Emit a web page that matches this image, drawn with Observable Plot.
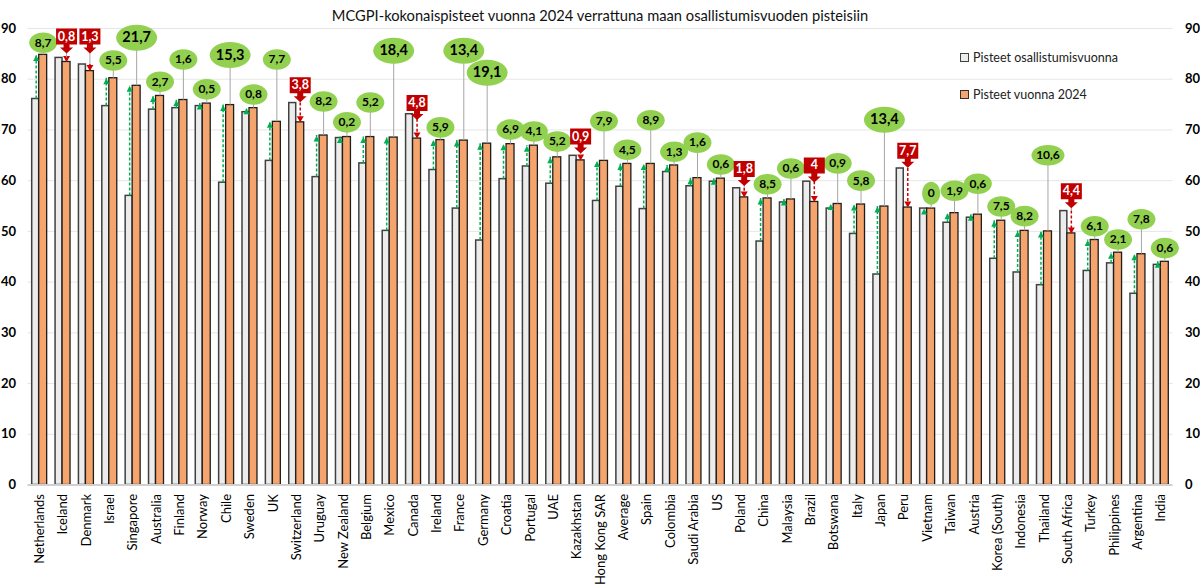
<!DOCTYPE html>
<html>
<head>
<meta charset="utf-8">
<script src="https://cdn.jsdelivr.net/npm/d3@7"></script>
<script src="https://cdn.jsdelivr.net/npm/@observablehq/plot@0.6"></script>
<style>
  html, body { margin: 0; padding: 0; background: #fff; }
  #wrap { position: relative; width: 1200px; height: 588px; font-family: Lato, "Open Sans", sans-serif; }
  #title { position: absolute; left: 0; top: 6px; width: 1200px; text-align: center; font-size: 14.7px; color: #111; }
  .leg { position: absolute; left: 960px; font-size: 12.5px; color: #222; display: flex; align-items: center; }
  .sw { width: 7px; height: 7px; margin-right: 4px; }
</style>
</head>
<body>
<div id="wrap">
  <div id="chart"></div>
  <div id="title">MCGPI-kokonaispisteet vuonna 2024 verrattuna maan osallistumisvuoden pisteisiin</div>
  <div class="leg" style="top:50px"><div class="sw" style="background:#ececec;border:1px solid #404040"></div>Pisteet osallistumisvuonna</div>
  <div class="leg" style="top:87px"><div class="sw" style="background:#f4a46c;border:1px solid #303030"></div>Pisteet vuonna 2024</div>
</div>
<script>
const categories = ["Netherlands","Iceland","Denmark","Israel","Singapore","Australia","Finland","Norway","Chile","Sweden","UK","Switzerland","Uruguay","New Zealand","Belgium","Mexico","Canada","Ireland","France","Germany","Croatia","Portugal","UAE","Kazakhstan","Hong Kong SAR","Average","Spain","Colombia","Saudi Arabia","US","Poland","China","Malaysia","Brazil","Botswana","Italy","Japan","Peru","Vietnam","Taiwan","Austria","Korea (South)","Indonesia","Thailand","South Africa","Turkey","Philippines","Argentina","India"];

const score2024 = [84.8,83.4,81.6,80.2,78.7,76.7,75.9,75.2,74.9,74.3,71.6,71.5,68.9,68.6,68.6,68.5,68.3,68.0,67.9,67.3,67.2,66.9,64.6,64.0,63.9,63.3,63.3,63.0,60.5,60.4,56.7,56.5,56.3,55.8,55.4,55.3,54.9,54.7,54.5,53.6,53.3,52.1,50.1,50.0,49.6,48.3,45.8,45.5,44.0];

const scoreEntry = [76.1,84.2,82.9,74.7,57.0,74.0,74.3,74.7,59.6,73.5,63.9,75.3,60.7,68.4,63.4,50.1,73.1,62.1,54.5,48.2,60.3,62.8,59.4,64.9,56.0,58.8,54.4,61.7,58.9,59.8,58.5,48.0,55.7,59.8,54.5,49.5,41.5,62.4,54.5,51.7,52.7,44.6,41.9,39.4,54.0,42.2,43.7,37.7,43.4];

const changeLabels = ["8,7","0,8","1,3","5,5","21,7","2,7","1,6","0,5","15,3","0,8","7,7","3,8","8,2","0,2","5,2","18,4","4,8","5,9","13,4","19,1","6,9","4,1","5,2","0,9","7,9","4,5","8,9","1,3","1,6","0,6","1,8","8,5","0,6","4","0,9","5,8","13,4","7,7","0","1,9","0,6","7,5","8,2","10,6","4,4","6,1","2,1","7,8","0,6"];

// where each change callout sits, in score units
const calloutAt = [87.2,88.4,88.4,83.7,88.2,79.5,83.9,78.0,84.8,77.0,83.9,78.8,75.6,71.5,75.4,85.6,75.3,70.5,85.6,81.3,70.1,69.7,67.7,68.7,71.7,66.1,71.9,65.7,67.5,63.2,62.3,59.3,62.4,63.0,63.4,60.0,72.0,65.9,57.5,58.0,59.4,54.9,53.0,65.0,57.9,51.0,48.4,52.4,46.7];

const yTicks = [0,10,20,30,40,50,60,70,80,90];

const rows = categories.map((c, i) => ({
  cat: c, now: score2024[i], entry: scoreEntry[i], label: changeLabels[i],
  callout: calloutAt[i], down: scoreEntry[i] > score2024[i],
  big: parseFloat(changeLabels[i].replace(",", ".")) >= 13
}));
const up = rows.filter(d => !d.down);
const down = rows.filter(d => d.down);

function ellipseSymbol(rx, ry) {
  const k = 0.5523;
  return { draw(ctx) {
    ctx.moveTo(rx, 0);
    ctx.bezierCurveTo(rx, ry * k, rx * k, ry, 0, ry);
    ctx.bezierCurveTo(-rx * k, ry, -rx, ry * k, -rx, 0);
    ctx.bezierCurveTo(-rx, -ry * k, -rx * k, -ry, 0, -ry);
    ctx.bezierCurveTo(rx * k, -ry, rx, -ry * k, rx, 0);
    ctx.closePath();
  }};
}
const calloutBox = { draw(ctx) {
  ctx.moveTo(-10.5, -8); ctx.lineTo(10.5, -8); ctx.lineTo(10.5, 8);
  ctx.lineTo(3, 8); ctx.lineTo(3, 11); ctx.lineTo(6.5, 11); ctx.lineTo(0, 17);
  ctx.lineTo(-6.5, 11); ctx.lineTo(-3, 11); ctx.lineTo(-3, 8); ctx.lineTo(-10.5, 8);
  ctx.closePath();
}};
const headUp = { draw(ctx) { ctx.moveTo(0, 0); ctx.lineTo(3, 6); ctx.lineTo(-3, 6); ctx.closePath(); } };
const headDown = { draw(ctx) { ctx.moveTo(0, 0); ctx.lineTo(3.5, -6); ctx.lineTo(-3.5, -6); ctx.closePath(); } };

const ellipseMarks = up.map(d => {
  const n = d.label.length;
  const rx = d.big ? 10.5 + 2.5 * n : 6.5 + 2.5 * n;
  const ry = d.big ? 13 : (n === 1 ? 11.5 : 10.3);
  return Plot.dot([d], {x: "cat", y: "callout", symbol: ellipseSymbol(rx, ry), fill: "#92d050", stroke: "none", dx: 3.5});
});

const chart = Plot.plot({
  width: 1200, height: 588,
  marginTop: 28, marginBottom: 103.5, marginLeft: 27.5, marginRight: 27.5,
  style: {fontFamily: "Lato, 'Open Sans', sans-serif", fontSize: "13px", color: "#000", background: "#fff", overflow: "visible"},
  x: {domain: categories, paddingInner: 0, paddingOuter: 0, round: false, axis: null},
  y: {domain: [0, 90], axis: null},
  marks: [
    Plot.ruleY(yTicks.slice(1), {stroke: "#e6e6e6", strokeWidth: 1}),
    Plot.barY(rows, {x: "cat", y: "entry", fill: "#ececec", stroke: "#404040", strokeWidth: 1.5, insetLeft: 4.2, insetRight: 12.2}),
    Plot.barY(rows, {x: "cat", y: "now", fill: "#f4a46c", stroke: "#1e1e1e", strokeWidth: 1.3, insetLeft: 11.2, insetRight: 4.2}),
    Plot.ruleY([0], {stroke: "#d0d0d0", strokeWidth: 2}),
    // green increase arrows
    Plot.ruleX(up, {x: "cat", y1: "entry", y2: "now", stroke: "#00b050", strokeWidth: 1.5, strokeDasharray: "3,2", dx: -3.5}),
    Plot.dot(up, {x: "cat", y: "now", symbol: headUp, fill: "#00b050", stroke: "none", dx: -3.5}),
    // red decrease arrows
    Plot.ruleX(down, {x: "cat", y1: "entry", y2: "now", stroke: "#d00000", strokeWidth: 1.5, strokeDasharray: "3,2", dx: 3.5}),
    Plot.dot(down, {x: "cat", y: "now", symbol: headDown, fill: "#d00000", stroke: "none", dx: 3.5}),
    // leader lines
    Plot.ruleX(up, {x: "cat", y1: "now", y2: "callout", stroke: "#a6a6a6", strokeWidth: 1, dx: 3.5}),
    Plot.ruleX(down, {x: "cat", y1: "entry", y2: "callout", stroke: "#a6a6a6", strokeWidth: 1, dx: 3.5}),
    ...ellipseMarks,
    Plot.text(up, {x: "cat", y: "callout", text: "label", dx: 3.5, fontWeight: "bold", fill: "#000", fontSize: d => d.big ? 14.5 : 12}),
    Plot.dot(down, {x: "cat", y: "callout", symbol: calloutBox, fill: "#c00000", stroke: "none", dx: 3.5}),
    Plot.text(down, {x: "cat", y: "callout", text: "label", dx: 3.5, fontWeight: "bold", fill: "#fff", fontSize: 12.5}),
    Plot.axisX({tickRotate: -90, tickSize: 0, tickPadding: 9, fontSize: 13, label: null}),
    Plot.axisY({anchor: "left", ticks: yTicks, tickSize: 0, tickPadding: 12, fontWeight: "bold", fontSize: 13, label: null}),
    Plot.axisY({anchor: "right", ticks: yTicks, tickSize: 0, tickPadding: 12, fontWeight: "bold", fontSize: 13, label: null})
  ]
});
document.getElementById("chart").appendChild(chart);
</script>
</body>
</html>
